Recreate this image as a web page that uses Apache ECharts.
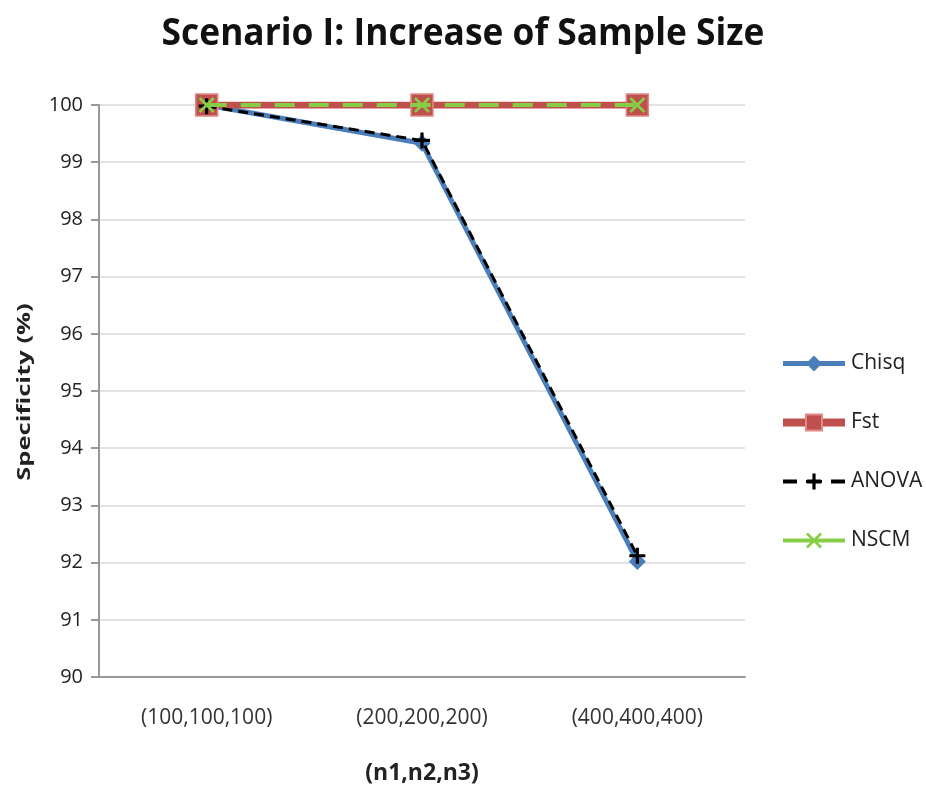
<!DOCTYPE html>
<html>
<head>
<meta charset="utf-8">
<script src="https://cdn.jsdelivr.net/npm/echarts@6/dist/echarts.min.js"></script>
<style>
html,body{margin:0;padding:0;background:#fff;}
#chart{width:926px;height:786px;}
</style>
</head>
<body>
<div id="chart"></div>
<script>
// Sample-size groups on the x axis
const categories = ['(100,100,100)', '(200,200,200)', '(400,400,400)'];
// Specificity (%) of each method
const chisq = [100, 99.33, 92.02];
const fst = [100, 100, 100];
const anova = [99.98, 99.38, 92.12];
const nscm = [100, 100, 100];
const yTicks = [90, 91, 92, 93, 94, 95, 96, 97, 98, 99, 100];

const FONT = '"Open Sans", "Noto Sans", sans-serif';
const plusPath = 'path://M4,0h2v4h4v2h-4v4h-2v-4h-4v-2h4z';
const crossPath = 'path://M1.2,0L5,3.8L8.8,0L10,1.2L6.2,5L10,8.8L8.8,10L5,6.2L1.2,10L0,8.8L3.8,5L0,1.2z';

const BLUE = '#4a7ebb', RED = '#c0504d', GREEN = '#86cf45';

const chart = echarts.init(document.getElementById('chart'));
chart.setOption({
  backgroundColor: '#fff',
  animation: false,
  graphic: [
    {
      // chart title, set slightly narrow
      type: 'text', x: 463, y: 34, scaleX: 0.93,
      style: {
        text: 'Scenario I: Increase of Sample Size',
        fontFamily: FONT, fontWeight: 'bold', fontSize: 38, fill: '#111',
        textAlign: 'center', textVerticalAlign: 'middle'
      }
    },
    {
      // y axis title
      type: 'text', x: 25, y: 392, rotation: Math.PI / 2, scaleX: 1.42,
      style: {
        text: 'Specificity (%)',
        fontFamily: FONT, fontWeight: 'bold', fontSize: 18, fill: '#222',
        textAlign: 'center', textVerticalAlign: 'middle'
      }
    }
  ],
  grid: { left: 99, right: 181, top: 105, bottom: 109, outerBoundsMode: 'none', containLabel: false },
  legend: {
    orient: 'vertical', left: 774, top: 348, itemGap: 38,
    itemWidth: 62, itemHeight: 20,
    textStyle: { fontFamily: FONT, fontSize: 21, color: '#222', padding: [0, 0, 0, 1] },
    data: [
      { name: 'Chisq', lineStyle: { width: 5 } },
      { name: 'Fst', lineStyle: { width: 8 } },
      { name: 'ANOVA', lineStyle: { width: 4, type: [14, 10] } },
      { name: 'NSCM', lineStyle: { width: 4, type: 'solid' } }
    ]
  },
  xAxis: {
    type: 'category', data: categories, boundaryGap: true,
    name: '(n1,n2,n3)', nameLocation: 'middle', nameGap: 85,
    nameTextStyle: { fontFamily: FONT, fontWeight: 'bold', fontSize: 23, color: '#222' },
    axisLine: { lineStyle: { color: '#999', width: 2 } },
    axisTick: { show: false },
    axisLabel: { fontFamily: FONT, fontSize: 21, color: '#333', margin: 31 }
  },
  yAxis: {
    type: 'value', min: yTicks[0], max: yTicks[yTicks.length - 1], interval: 1,
    axisLine: { show: true, lineStyle: { color: '#999', width: 2 } },
    axisTick: { show: true, length: 8, lineStyle: { color: '#999', width: 2 } },
    axisLabel: { fontFamily: FONT, fontSize: 20, color: '#222', margin: 16 },
    splitLine: { lineStyle: { color: '#e3e3e3', width: 2 } }
  },
  series: [
    {
      name: 'Chisq', type: 'line', data: chisq, z: 2,
      symbol: 'diamond', symbolSize: 17,
      lineStyle: { color: BLUE, width: 5 },
      itemStyle: { color: BLUE }
    },
    {
      name: 'Fst', type: 'line', data: fst, z: 3,
      symbol: 'rect', symbolSize: 22,
      lineStyle: { color: RED, width: 7 },
      itemStyle: { color: RED, borderColor: '#e08a87', borderWidth: 1.5 }
    },
    {
      name: 'ANOVA', type: 'line', data: anova, z: 4,
      symbol: plusPath, symbolSize: 16,
      lineStyle: { color: '#000', width: 3, type: [10, 6] },
      itemStyle: { color: '#000' }
    },
    {
      name: 'NSCM', type: 'line', data: nscm, z: 5,
      symbol: crossPath, symbolSize: 16,
      lineStyle: { color: GREEN, width: 4, type: [20, 14] },
      itemStyle: { color: GREEN }
    }
  ]
});
</script>
</body>
</html>
